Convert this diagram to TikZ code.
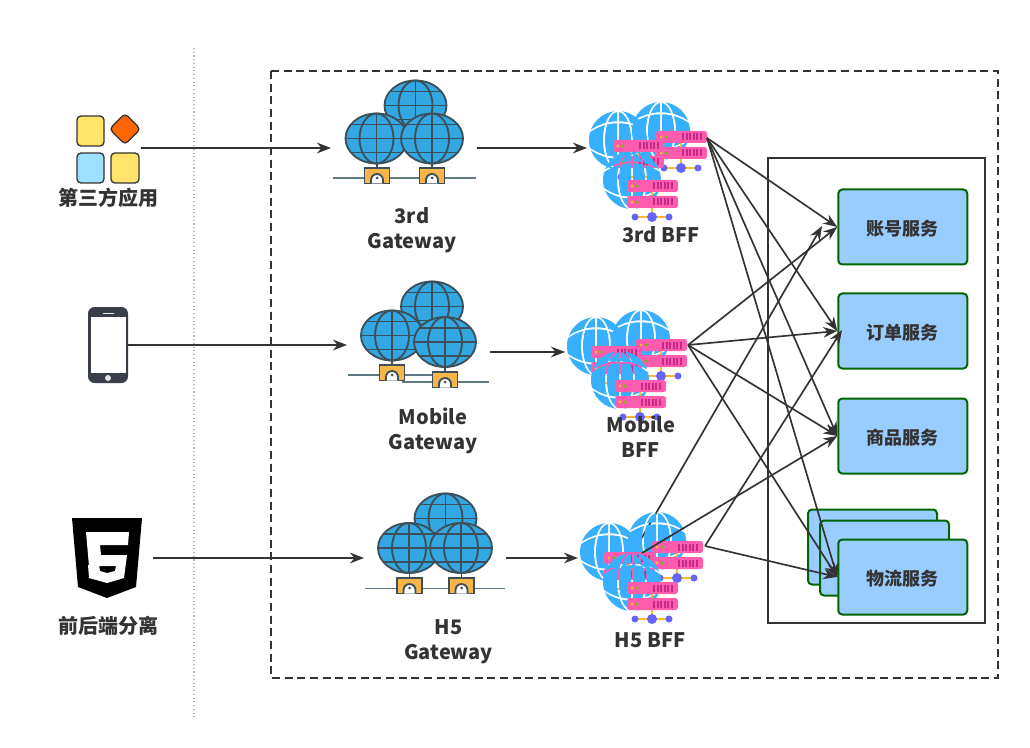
\documentclass[tikz,border=0pt]{standalone}
\usepackage{fontspec}
\setmainfont{Noto Sans CJK SC}
\usetikzlibrary{arrows.meta}
\definecolor{inkdark}{HTML}{333333}
\definecolor{appyellow}{HTML}{FFE36B}
\definecolor{appcyan}{HTML}{9FE0FF}
\definecolor{apporange}{HTML}{FF6600}
\definecolor{wanblue}{HTML}{33A7E2}
\definecolor{wanedge}{HTML}{3D5059}
\definecolor{wanbase}{HTML}{5F7883}
\definecolor{wanport}{HTML}{F9B548}
\definecolor{bffblue}{HTML}{38B0FF}
\definecolor{barpink}{HTML}{FF5CAD}
\definecolor{barslot}{HTML}{C42B8A}
\definecolor{stemgold}{HTML}{FFB92E}
\definecolor{dotviolet}{HTML}{6464FF}
\definecolor{svcfill}{HTML}{99CCFF}
\definecolor{svcedge}{HTML}{006600}
\definecolor{phonegray}{HTML}{3A3D4A}

\tikzset{
 flow/.style={draw=inkdark, line width=1.25pt, -{Stealth[length=10.5pt,width=8pt]}},
 svc/.style={draw=svcedge, fill=svcfill, line width=1.5pt, rounded corners=3pt, minimum width=96.75pt, minimum height=56.25pt, inner sep=0pt, text=inkdark, text height=14pt, text depth=.8pt, font=\fontsize{13.5}{16}\selectfont\bfseries},
 lbl/.style={text=inkdark, inner sep=0pt, align=center, font=\fontsize{15}{18.75}\selectfont\bfseries},
 wan/.style={draw=wanedge, line width=1.4pt},
 appicon/.style={draw=inkdark, line width=1pt, rounded corners=3pt},
 wanglobe/.pic={
  \draw[wan, fill=wanblue] (0,0) ellipse [x radius=31, y radius=25];
  \draw[wan] (0,0) ellipse [x radius=17, y radius=25];
  \draw[wan] (0,-25)--(0,25);
  \draw[wan] (-31,0)--(31,0);
  \draw[wan] (-25.5,-14)--(25.5,-14);
  \draw[wan] (-25.5,14)--(25.5,14);
 },
 wanbox/.pic={
  \draw[wan] (0,-5)--(0,0);
  \draw[wan, fill=wanport] (-12.5,0) rectangle (12.5,15.5);
  \draw[wan, fill=white] (-6,15.5) -- (-6,12) arc [start angle=180, end angle=360, radius=6] -- (6,15.5);
  \fill[wanedge] (0,10) circle [radius=1.5];
 },
 bffunit/.pic={
  % the globe lines are gaps: whatever lies below shows through them
  \begin{scope}[even odd rule]
  \clip (-31,-31) rectangle (31,31) (-1,-31) rectangle (1,31);
  \clip (-31,-31) rectangle (31,31) (0,0) ellipse [x radius=15, y radius=30] (0,0) ellipse [x radius=13, y radius=28];
  \clip (-31,-31) rectangle (31,31) (-29,-9) .. controls (-12,-22) and (12,-22) .. (29,-9) -- (29,-7) .. controls (12,-20) and (-12,-20) .. (-29,-7) -- cycle;
  \clip (-31,-31) rectangle (31,31) (-29,9) .. controls (-12,22) and (12,22) .. (29,9) -- (29,7) .. controls (12,20) and (-12,20) .. (-29,7) -- cycle;
  \fill[bffblue] (0,0) circle [radius=29];
  \end{scope}
  \draw[stemgold, line width=2.2pt] (20,12)--(20,37);
  \draw[stemgold, line width=2.2pt] (3,37)--(37,37);
  \fill[dotviolet] (20,37) circle [radius=5];
  \foreach \dx in {3,37} {\fill[dotviolet] (\dx,37) circle [radius=3.5];}
  \foreach \dy in {0,16} {
   \fill[barpink, rounded corners=2pt] (-5,\dy) rectangle (46,\dy+12);
   \fill[stemgold] (0,\dy+6) circle [radius=1.7];
   \fill[green!60!yellow!80!black] (5,\dy+6) circle [radius=1.7];
   \foreach \dx in {21,24.6,28.2,31.8,35.4,39} {\fill[barslot] (\dx,\dy+2.5) rectangle (\dx+1.9,\dy+9.5);}
  }
 },
}

\begin{document}
\begin{tikzpicture}[x=.75pt, y=-.75pt]
\useasboundingbox (0,0) rectangle (1030,748);
\fill[white] (0,0) rectangle (1030,748);

% frames
\draw[gray!60, dotted, line width=.8pt] (194,48)--(194,717);
\draw[inkdark, line width=1.5pt, dash pattern=on 6pt off 3.5pt] (271,71) rectangle (998,678);
\draw[inkdark, line width=1pt] (768,158) rectangle (985,623);

% left column: apps
\draw[appicon, fill=appyellow] (77,116) rectangle (104,146);
\draw[appicon, fill=apporange] (125,113.5) -- (140.5,129) -- (125,144.5) -- (109.5,129) -- cycle;
\draw[appicon, fill=appcyan] (77,153) rectangle (104,183);
\draw[appicon, fill=appyellow] (111,153) rectangle (139,183);
\node[lbl] (appslabel) at (108,197.5) {第三方应用};

% left column: phone
\fill[phonegray, rounded corners=5pt] (88,307) rectangle (128,383);
\fill[white] (91,317) rectangle (126,373);
\fill[white!80!gray] (108,378) circle [radius=3];
\fill[white!80!gray] (103,312.5) rectangle (114,314);

% left column: html5 shield
\fill[black] (72,518) -- (142,518) -- (136,587) -- (107,598) -- (78,587) -- cycle;
\fill[white] (86,532) -- (129,532) -- (128,545) -- (100,545) -- (101,555) -- (127,555) -- (124,578) -- (107,583) -- (89,578) -- (88,565) -- (99,565) -- (100,571) -- (107,573) -- (115,571) -- (116,566) -- (89,566) -- cycle;
\node[lbl] (h5label) at (108,625.5) {前后端分离};

% gateways
\draw[wanbase, line width=1.4pt] (333,178)--(476,178);
\pic at (377,168) {wanbox};
\pic at (432,168) {wanbox};
\pic at (415.5,105.5) {wanglobe};
\pic at (376.5,138.5) {wanglobe};
\pic at (432,138.5) {wanglobe};
\node[lbl] (gwthreelabel) at (412,230) {3rd\\Gateway};

\draw[wanbase, line width=1.4pt] (348,375)--(432,375);
\draw[wanbase, line width=1.4pt] (402,382)--(489,382);
\pic at (392,365) {wanbox};
\pic at (445,372) {wanbox};
\pic at (432,306.5) {wanglobe};
\pic at (392,335.5) {wanglobe};
\pic at (445,342) {wanglobe};
\node[lbl] (gwmobilelabel) at (433,430.5) {Mobile\\Gateway};

\draw[wanbase, line width=1.4pt] (365,588.5)--(505,588.5);
\pic at (409.5,578) {wanbox};
\pic at (461.5,578) {wanbox};
\pic at (445.5,518.5) {wanglobe};
\pic at (409,548) {wanglobe};
\pic at (461,548) {wanglobe};
\node[lbl] (gwhfivelabel) at (448.5,642) {H5\\Gateway};

% services
\node[svc] (acct) at (902.75,227) {账号服务};
\node[svc] (order) at (902.75,331) {订单服务};
\node[svc] (goods) at (902.75,436) {商品服务};
\node[svc] (shipb) at (872.5,547) {};
\node[svc] (shipa) at (884.5,558) {};
\node[svc] (ship) at (902.75,577) {物流服务};

% ends of the arrows
\coordinate (appsout) at (141,148);
\coordinate (gwthreein) at (331,148);
\coordinate (gwthreeout) at (477,148);
\coordinate (bffthreein) at (587,148);
\coordinate (phoneout) at (127,345);
\coordinate (gwmobilein) at (347,345);
\coordinate (gwmobileout) at (490,352);
\coordinate (bffmobilein) at (565,352);
\coordinate (shieldout) at (153,558);
\coordinate (gwhfivein) at (364,558);
\coordinate (gwhfiveout) at (506,558);
\coordinate (bffhfivein) at (578,558);
\coordinate (bffthreeout) at (707,138);
\coordinate (bffmobileout) at (688,345);
\coordinate (bffhfiveout) at (705,546);
\coordinate (bffhfivemid) at (642,553);
\coordinate (bffhfiveback) at (633,553);
\coordinate (acctshort) at (822,226);
\coordinate (orderin) at (842,330);

% this one runs behind the H5 globes
\draw[flow] (bffhfiveback) -- (acctshort);

% bff stacks
\pic at (661,131) {bffunit};
\pic at (618,140) {bffunit};
\pic at (632,180) {bffunit};
\pic at (641,339) {bffunit};
\pic at (596,346) {bffunit};
\pic at (620,380) {bffunit};
\pic at (657,541) {bffunit};
\pic at (609,552) {bffunit};
\pic at (632,582) {bffunit};

\node[lbl] (bffthreelabel) at (661,234.5) {3rd BFF};
\node[lbl] (bffmobilelabel) at (641,436.5) {Mobile\\BFF};
\node[lbl] (bffhfivelabel) at (650,640.5) {H5 BFF};

% arrows
\foreach \from/\to in {appsout/gwthreein, gwthreeout/bffthreein, phoneout/gwmobilein, gwmobileout/bffmobilein, shieldout/gwhfivein, gwhfiveout/bffhfivein} {
 \draw[flow] (\from) -- (\to);
}
\foreach \to in {acct, order, goods, ship} {
 \draw[flow] (bffthreeout) -- (\to.west);
 \draw[flow] (bffmobileout) -- (\to.west);
}
\draw[flow] (bffhfivemid) -- (goods.west);
\draw[flow] (bffhfiveout) -- (ship.west);
\draw[flow] (bffhfiveout) -- (orderin);
\end{tikzpicture}
\end{document}
